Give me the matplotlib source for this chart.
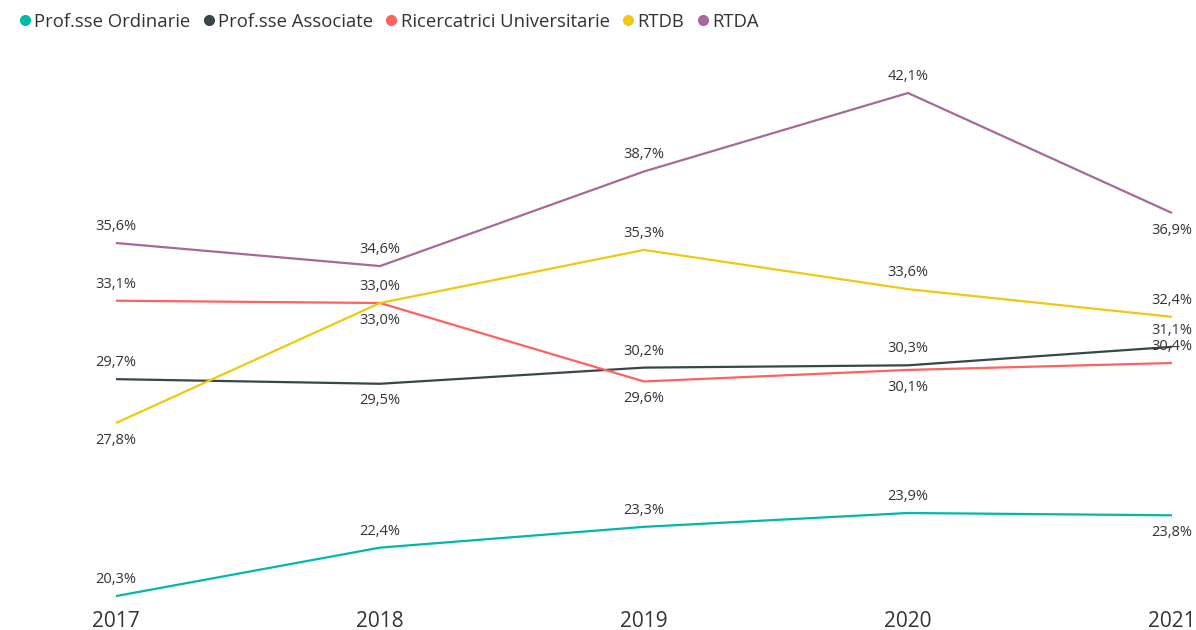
import matplotlib.pyplot as plt
from matplotlib.lines import Line2D

plt.rcParams['font.family'] = ['Open Sans', 'DejaVu Sans']

years = [2017, 2018, 2019, 2020, 2021]
series_names = ['Prof.sse Ordinarie', 'Prof.sse Associate', 'Ricercatrici Universitarie', 'RTDB', 'RTDA']
ordinarie = [20.3, 22.4, 23.3, 23.9, 23.8]
associate = [29.7, 29.5, 30.2, 30.3, 31.1]
ricercatrici = [33.1, 33.0, 29.6, 30.1, 30.4]
rtdb = [27.8, 33.0, 35.3, 33.6, 32.4]
rtda = [35.6, 34.6, 38.7, 42.1, 36.9]

colors = ['#01B8AA', '#374649', '#FD625E', '#F2C80F', '#A66999']
# label placement: 1 above, -1 below
placement = [
    [1, 1, 1, 1, -1],
    [1, -1, 1, 1, 1],
    [1, -1, -1, -1, 1],
    [-1, 1, 1, 1, 1],
    [1, 1, 1, 1, -1],
]

fig = plt.figure(figsize=(11.96, 6.3), dpi=100)
ax = fig.add_axes([116 / 1196, 30 / 630, (1172 - 116) / 1196, 540 / 630])

all_series = [ordinarie, associate, ricercatrici, rtdb, rtda]
for vals, c, pl in zip(all_series, colors, placement):
    ax.plot(years, vals, color=c, lw=1.6, clip_on=False, solid_capstyle='butt')
    for x, v, p in zip(years, vals, pl):
        ax.annotate(f'{v:.1f}%'.replace('.', ','), (x, v), xytext=(0, 6.5 if p > 0 else -7),
                    textcoords='offset points', ha='center',
                    va='bottom' if p > 0 else 'top', fontsize=10.5, color='#333333')

ax.set_xlim(2017, 2021)
ax.set_ylim(20.13, 43.53)
ax.set_xticks(years)
ax.set_xticklabels([str(y) for y in years], fontsize=15, color='#333333')
ax.tick_params(axis='x', length=0, pad=8)
ax.set_yticks([])
for s in ax.spines.values():
    s.set_visible(False)

handles = [Line2D([], [], marker='o', ls='', color=c, markersize=7) for c in colors]
fig.legend(handles, series_names, loc='upper left', bbox_to_anchor=(0.002, 1.0), ncol=5,
           frameon=False, fontsize=13.3, handletextpad=0.0, columnspacing=0.5,
           handlelength=1.0, labelcolor='#333333', borderaxespad=0.3)

fig.savefig('out.png', dpi=100)
